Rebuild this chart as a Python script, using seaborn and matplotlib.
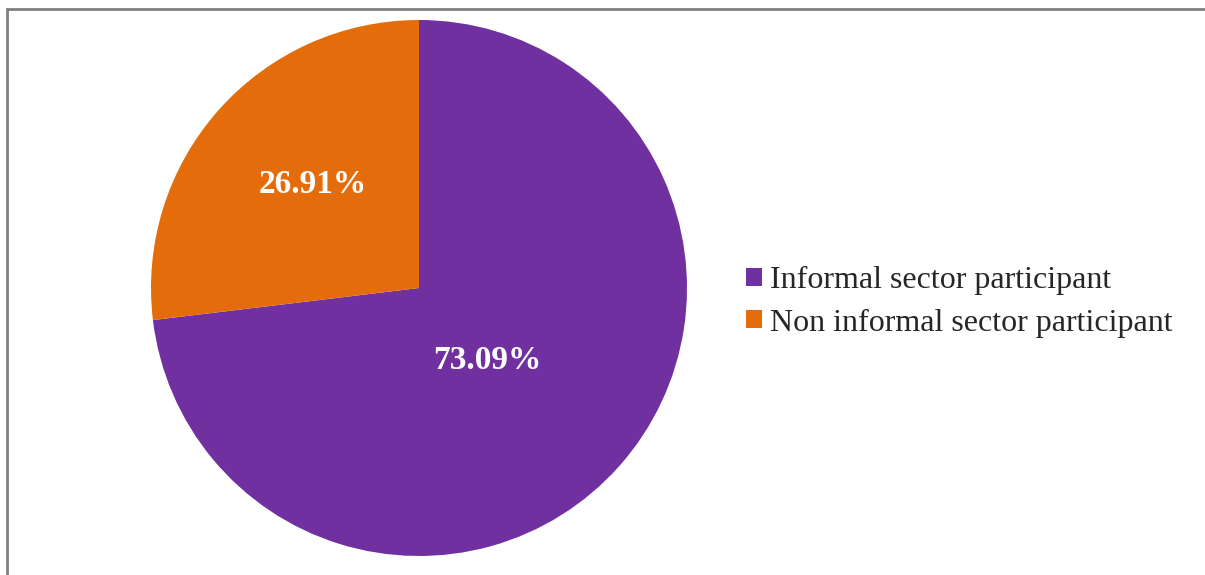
import matplotlib
matplotlib.use("Agg")
import matplotlib.pyplot as plt
from matplotlib.patches import Rectangle
import numpy as np
import seaborn as sns

categories = ["Informal sector participant", "Non informal sector participant"]
shares = [73.09, 26.91]
colors = ["#7030A0", "#E46C0A"]
label_radius = [0.362, 0.562]

sns.set_style("white")
plt.rcParams["font.family"] = ["Liberation Serif", "DejaVu Serif"]

W, H = 1205, 575
fig = plt.figure(figsize=(W / 100, H / 100), dpi=100)

cx, cy, r = 419, 288, 268
ax = fig.add_axes([(cx - r) / W, (H - cy - r) / H, 2 * r / W, 2 * r / H])
wedges, _ = ax.pie(shares, colors=colors, startangle=90, counterclock=False,
                   radius=1.0, wedgeprops=dict(linewidth=0))
ax.set_xlim(-1, 1)
ax.set_ylim(-1, 1)
ax.set_aspect("equal")
ax.axis("off")

# value labels, set slightly clockwise of each wedge's bisector
for w, val, rad in zip(wedges, shares, label_radius):
    mid = np.deg2rad((w.theta1 + w.theta2) / 2 - 3.5)
    ax.text(rad * np.cos(mid), rad * np.sin(mid), f"{val:.2f}%",
            ha="center", va="center_baseline", color="white", fontsize=24,
            fontweight="bold")

fig.legend(wedges, categories, loc="center left",
           bbox_to_anchor=(746 / W, 1 - 302 / H), frameon=False,
           fontsize=23, handlelength=0.5, handleheight=0.5,
           handletextpad=0.25, labelspacing=0.42, borderpad=0,
           borderaxespad=0)

# outer chart frame
fig.patches.append(Rectangle((7 / W, -0.1), 1.2, 1 - 8.5 / H + 0.1,
                             transform=fig.transFigure, fill=False,
                             edgecolor="#808080", linewidth=2))

fig.savefig("out.png", dpi=100)
